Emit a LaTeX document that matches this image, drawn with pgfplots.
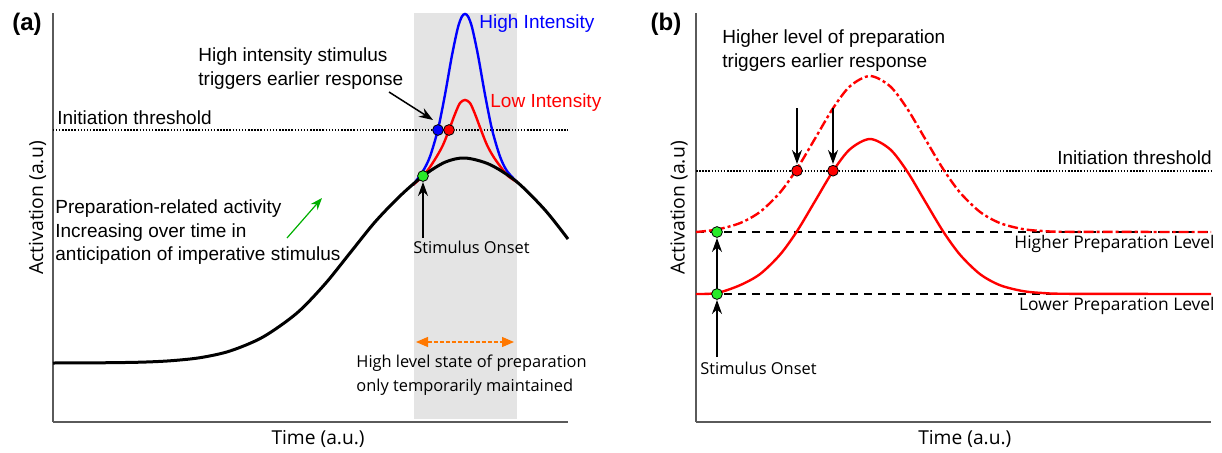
\documentclass[border=0pt]{standalone}
\usepackage{fontspec}
\setmainfont{Liberation Sans}
\newfontfamily\osans{Open Sans}
\usepackage{pgfplots}
\pgfplotsset{compat=1.18}
\usetikzlibrary{arrows.meta}
\definecolor{bandgray}{RGB}{228,228,228}
\definecolor{axgray}{RGB}{90,90,90}
\definecolor{myred}{RGB}{255,0,0}
\definecolor{myblue}{RGB}{0,0,255}
\definecolor{mygreen}{RGB}{40,235,40}
\definecolor{arrgreen}{RGB}{0,175,0}
\definecolor{myorange}{RGB}{255,120,0}
\pgfplotsset{
  panel/.style={x=0.5pt, y=0.5pt, ymin=30.3, ymax=439,
    axis x line=bottom, axis y line=left,
    axis line style={-, axgray, line width=1pt},
    xtick=\empty, ytick=\empty, clip=false, anchor=south west,
    xlabel style={font=\osans\fontsize{9.6}{11}\selectfont, anchor=center, inner sep=0pt},
    ylabel style={font=\osans\fontsize{9.7}{11}\selectfont, anchor=center, inner sep=0pt}},
  dot/.style={only marks, mark=*, mark size=2.7pt, mark options={fill=#1, draw=black, line width=0.4pt}},
  thr/.style={black, line width=1.1pt, dash pattern=on 0.75pt off 0.8pt}
}
\tikzset{
  txt/.style={font=\fontsize{9.5}{11}\selectfont, inner sep=0pt, anchor=base west},
  otxt/.style={font=\osans\fontsize{8.2}{10}\selectfont, inner sep=0pt, anchor=base west},
  arr/.style={line width=0.75pt, -{Stealth[length=7pt,width=5pt]}}
}
\begin{document}
\begin{tikzpicture}
\useasboundingbox (0,0) rectangle (611pt,226pt);
% ---------------- panel (a) ----------------
\begin{axis}[panel, at={(26.35pt,15.15pt)}, xmin=52.7, xmax=568,
  xlabel={Time (a.u.)}, ylabel={Activation (a.u)},
  xlabel style={at={(axis description cs:0.515,-0.0423)}},
  ylabel style={at={(axis description cs:-0.0295,0.523)}}]
\addplot[draw=none, fill=bandgray] coordinates {(414,33) (414,439) (517,439) (517,33)} -- cycle;
\addplot[thr] coordinates {(52.7,322) (568,322)};
\addplot[myblue, line width=1.2pt, smooth] coordinates {
(413,267) (423,281) (430,295.5) (438,322.7) (445,357.4) (452,396.8) (458,424.8) (462,435.6) (465,438)
(468,435.6) (472,424.8) (478,396.8) (485,357.4) (492,322.7) (500,295.5) (507,281) (517,270)};
\addplot[myred, line width=1.2pt, smooth] coordinates {
(413,267) (423,276) (430,285) (437,296) (443,307) (449,322) (455,338) (460,349) (465,352)
(470,349) (475,338) (481,322) (487,307) (493,296) (500,286) (508,276) (517,270)};
\addplot[black, line width=1.5pt, smooth] coordinates {
(53,89) (100,89.2) (140,89.8) (170,91.2) (200,94.3) (230,101) (263,115) (297,139)
(325,168) (350,199) (375,230) (400,256) (423,276) (445,289.8) (465,294) (490,287.4)
(517,270) (545,242) (568,213)};
\addplot[dot=mygreen] coordinates {(423,276)};
\addplot[dot=myblue] coordinates {(438,322)};
\addplot[dot=myred] coordinates {(449,322)};
\draw[arr] (axis cs:423,214) -- (axis cs:423,270);
\draw[arr] (axis cs:389,360) -- (axis cs:433,332);
\draw[arrgreen, line width=0.6pt, -{Stealth[length=6pt,width=4.5pt]}] (axis cs:287,214) -- (axis cs:322,254);
\draw[myorange, line width=0.6pt, dash pattern=on 2pt off 1pt, {Triangle[length=6pt,width=5pt]}-{Triangle[length=6pt,width=5pt]}] (axis cs:416,110) -- (axis cs:514,110);
\node[font=\bfseries\fontsize{12}{14}\selectfont, inner sep=0pt] at (axis cs:27,428) {(a)};
\node[txt] at (axis cs:57,327.5) {Initiation threshold};
\node[txt] at (axis cs:198,390.5) {High intensity stimulus};
\node[txt] at (axis cs:198,366.5) {triggers earlier response};
\node[txt, text=myblue] at (axis cs:479,423.5) {High Intensity};
\node[txt, text=myred] at (axis cs:490,344.5) {Low Intensity};
\node[txt] at (axis cs:55,238.5) {Preparation-related activity};
\node[txt] at (axis cs:55,214.5) {Increasing over time in};
\node[txt] at (axis cs:55,191.5) {anticipation of imperative stimulus};
\node[otxt] at (axis cs:413,198.5) {Stimulus Onset};
\node[otxt] at (axis cs:356,84.5) {High level state of preparation};
\node[otxt] at (axis cs:356,60.5) {only temporarily maintained};
\end{axis}
% ---------------- panel (b) ----------------
\begin{axis}[panel, at={(348pt,15.15pt)}, xmin=696, xmax=1211,
  xlabel={Time (a.u.)}, ylabel={Activation (a.u)},
  xlabel style={at={(axis description cs:0.522,-0.0423)}},
  ylabel style={at={(axis description cs:-0.033,0.523)}}]
\addplot[thr] coordinates {(696,281.3) (1211,281.3)};
\addplot[black, line width=0.9pt, dash pattern=on 4pt off 3pt] coordinates {(696,220) (1211,220)};
\addplot[black, line width=0.9pt, dash pattern=on 4pt off 3pt] coordinates {(696,158) (1211,158)};
\addplot[myred, line width=1.2pt, smooth] coordinates {
(696,158) (717,159) (740,166.8) (760,177.9) (780,197.3) (797,220.8) (815,250.8) (833,280.9) (850,302.8)
(870,313) (890,302.8) (907,280.9) (925,250.8) (943,220.8) (960,197.3) (980,177.9) (1000,166.8)
(1023,160.9) (1044,158.9) (1070,158.2) (1211,158)};
\addplot[myred, line width=1.2pt, smooth, dash pattern=on 5pt off 1.5pt on 1.5pt off 1.5pt] coordinates {
(696,220) (717,222.5) (740,228.9) (760,240.1) (780,259.5) (797,283.2) (815,313.4) (833,343.7) (850,365.8)
(870,376) (890,365.8) (907,343.7) (925,313.4) (943,283.2) (960,259.5) (980,240.1) (1000,228.9)
(1023,222.9) (1044,220.9) (1070,220.2) (1211,220)};
\addplot[dot=myred] coordinates {(797,281.3) (833,281.3)};
\addplot[dot=mygreen] coordinates {(717,220) (717,158)};
\draw[arr] (axis cs:797,344) -- (axis cs:797,288);
\draw[arr] (axis cs:833,344) -- (axis cs:833,288);
\draw[arr] (axis cs:717,95) -- (axis cs:717,152);
\draw[arr] (axis cs:717,158) -- (axis cs:717,214);
\node[font=\bfseries\fontsize{12}{14}\selectfont, inner sep=0pt] at (axis cs:666,428) {(b)};
\node[txt] at (axis cs:722,408.5) {Higher level of preparation};
\node[txt] at (axis cs:722,384.5) {triggers earlier response};
\node[txt, anchor=base east] at (axis cs:1212,287.5) {Initiation threshold};
\node[otxt, anchor=base east, font=\osans\fontsize{8.7}{10}\selectfont] at (axis cs:1215,204) {Higher Preparation Level};
\node[otxt, anchor=base east, font=\osans\fontsize{8.7}{10}\selectfont] at (axis cs:1215,142) {Lower Preparation Level};
\node[otxt] at (axis cs:700,77.5) {Stimulus Onset};
\end{axis}
\end{tikzpicture}
\end{document}
